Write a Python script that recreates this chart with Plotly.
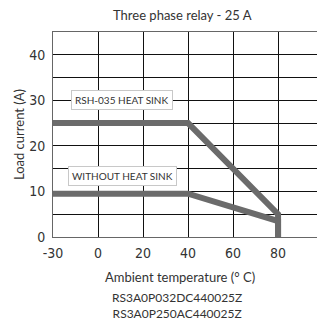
import plotly.graph_objects as go

# Data
temp_heatsink = [-30, 40, 80, 80]
current_heatsink = [25, 25, 5, 0]
temp_no_heatsink = [-30, 40, 80, 80]
current_no_heatsink = [9.5, 9.5, 3.5, 0]

# Axis tick labels (the -30 label sits at the left edge, one grid step before 0)
x_tick_labels = ["-30", "0", "20", "40", "60", "80"]
x_tick_pos = [-20, 0, 20, 40, 60, 80]
y_tick_vals = [0, 10, 20, 30, 40]

title_text = "Three phase relay - 25 A"
x_title = "Ambient temperature (° C)"
y_title = "Load current (A)"
part_numbers = ["RS3A0P032DC440025Z", "RS3A0P250AC440025Z"]
labels = ["RSH-035 HEAT SINK", "WITHOUT HEAT SINK"]
label_pos = [(10.7, 30), (10.7, 13.3)]

LINE = "#6b6b6b"
TXT = "#333333"
FONT = "Lato, 'Open Sans', sans-serif"
NUMFONT = "'Liberation Sans Narrow', 'DejaVu Sans Condensed', Lato, sans-serif"

fig = go.Figure()
for xs, ys in [(temp_heatsink, current_heatsink), (temp_no_heatsink, current_no_heatsink)]:
    fig.add_trace(go.Scatter(x=xs, y=ys, mode="lines",
                             line=dict(color=LINE, width=6),
                             hoverinfo="skip", showlegend=False, cliponaxis=True))

for t, (lx, ly) in zip(labels, label_pos):
    fig.add_annotation(x=lx, y=ly, xref="x", yref="y", text=t, showarrow=False,
                       font=dict(family=FONT, size=10, color=TXT),
                       bgcolor="white", bordercolor="#c8c8c8", borderwidth=1, borderpad=3)

fig.add_annotation(x=0.49, y=1.0, xref="paper", yref="paper", yshift=17, yanchor="middle",
                   text=title_text, showarrow=False,
                   font=dict(family=FONT, size=13, color=TXT))
fig.add_annotation(x=0.48, y=0, xref="paper", yref="paper", yshift=-40, yanchor="middle",
                   text=x_title, showarrow=False,
                   font=dict(family=FONT, size=13, color=TXT))
fig.add_annotation(x=0.47, y=0, xref="paper", yref="paper", yshift=-68, yanchor="middle",
                   text="<br>".join(part_numbers), showarrow=False,
                   font=dict(family=FONT, size=12, color=TXT))

fig.update_layout(
    width=317, height=325,
    margin=dict(l=53, r=0, t=32, b=88),
    paper_bgcolor="white", plot_bgcolor="white",
    font=dict(family=FONT, color=TXT),
    xaxis=dict(range=[-20, 97.3], tickvals=x_tick_pos, ticktext=x_tick_labels,
               showgrid=True, gridcolor="#111111", gridwidth=1,
               showline=True, linecolor="#666666", linewidth=1, mirror=True,
               zeroline=False, ticks="", automargin=False, ticklabelstandoff=3,
               tickfont=dict(family=NUMFONT, size=14, color=TXT),
               fixedrange=True),
    yaxis=dict(range=[0, 45], tickvals=y_tick_vals,
               showgrid=True, gridcolor="#111111", gridwidth=1,
               minor=dict(dtick=5, showgrid=True, gridcolor="#111111", gridwidth=1),
               showline=True, linecolor="#666666", linewidth=1,
               zeroline=False, ticks="", ticklabelstandoff=4, automargin=False,
               tickfont=dict(family=NUMFONT, size=14, color=TXT),
               title=dict(text=y_title, font=dict(family=FONT, size=13, color=TXT), standoff=1),
               fixedrange=True),
)

fig.write_html("out.html", config={"displayModeBar": False},
               post_script="document.body.style.margin='0';document.body.style.padding='0';")
